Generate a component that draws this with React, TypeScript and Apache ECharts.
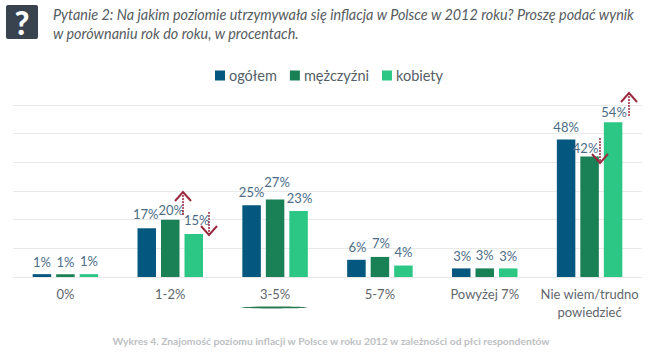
import React, { useEffect, useRef } from "react";
import * as echarts from "echarts";

const categories = ["0%", "1-2%", "3-5%", "5-7%", "Powyżej 7%", "Nie wiem/trudno\npowiedzieć"];
const seriesNames = ["ogółem", "mężczyźni", "kobiety"];
const ogolem = [1, 17, 25, 6, 3, 48];
const mezczyzni = [1, 20, 27, 7, 3, 42];
const kobiety = [1, 15, 23, 4, 3, 54];
const colors = ["#04587f", "#1a8055", "#2cc784"];
const title1 = "Pytanie 2: Na jakim poziomie utrzymywała się inflacja w Polsce w 2012 roku? Proszę podać wynik";
const title2 = "w porównaniu rok do roku, w procentach.";
const footer = "Wykres 4. Znajomość poziomu inflacji w Polsce w roku 2012 w zależności od płci respondentów";

const FONT = "Lato, 'Open Sans', sans-serif";
const nudges: number[][][] = [
  [[0, -1], [-1, -3], [0, -2], [1, -1], [1, -1], [0, -1]],
  [[0, -1], [1, 2], [2, -6], [1, -2], [0, -2], [-4, 3]],
  [[0, -2], [3, -3], [1, -2], [0, -2], [0, -1], [1, 1]],
];

function arrow(x: number, top: number, bottom: number, up: boolean) {
  const stroke = "#9c2a3f";
  const tip = up ? top : bottom;
  const dir = up ? 1 : -1;
  return [
    { type: "line", silent: true, z: 20, shape: { x1: x, y1: top, x2: x, y2: bottom }, style: { stroke, lineWidth: 1.5, lineDash: [2, 1] } },
    { type: "polyline", silent: true, z: 20, shape: { points: [[x - 8, tip + dir * 9], [x, tip], [x + 8, tip + dir * 9]] }, style: { stroke, lineWidth: 2, fill: "none" } },
  ];
}

export default function App() {
  const ref = useRef<HTMLDivElement>(null);
  useEffect(() => {
    const chart = echarts.init(ref.current!, null, { renderer: "svg" });
    const values = [ogolem, mezczyzni, kobiety];
    chart.setOption({
      animation: false,
      backgroundColor: "#ffffff",
      textStyle: { fontFamily: FONT },
      legend: {
        data: seriesNames,
        left: 210,
        top: 63,
        icon: "rect",
        itemWidth: 10,
        itemHeight: 10,
        itemGap: 13,
        selectedMode: false,
        textStyle: { fontFamily: FONT, fontSize: 14.5, color: "#555f68", padding: [0, 0, 0, -1] },
      },
      grid: { left: 13, right: 13, top: 105, bottom: 77 },
      xAxis: {
        type: "category",
        data: categories,
        axisLine: { lineStyle: { color: "#e6e8e8" } },
        axisTick: { show: false },
        axisLabel: { fontFamily: FONT, fontSize: 13, color: "#5f666c", margin: 8, lineHeight: 18, interval: 0 },
      },
      yAxis: {
        type: "value",
        min: 0,
        max: 60,
        interval: 10,
        axisLabel: { show: false },
        axisLine: { show: false },
        axisTick: { show: false },
        splitLine: { lineStyle: { color: "#e8eaea" } },
      },
      series: values.map((vals, s) => ({
        name: seriesNames[s],
        type: "bar",
        barWidth: 18.5,
        barGap: "27%",
        itemStyle: { color: colors[s] },
        data: vals.map((v, c) => ({
          value: v,
          label: {
            show: true,
            position: "top",
            distance: 5,
            formatter: "{c}%",
            offset: nudges[s][c],
            fontFamily: FONT,
            fontSize: 13,
            color: "#4b6c88",
          },
        })),
      })),
      graphic: [
        { type: "rect", silent: true, shape: { x: 6, y: 5, width: 32, height: 34, r: 2 }, style: { fill: "#38434f" } },
        { type: "text", silent: true, x: 22, y: 22, style: { text: "?", fill: "#ffffff", font: "900 32px Lato, sans-serif", align: "center", verticalAlign: "middle" } },
        { type: "text", silent: true, x: 53, y: 14, style: { text: title1, fill: "#555b60", font: "italic 14.4px Lato, sans-serif", verticalAlign: "middle" } },
        { type: "text", silent: true, x: 53, y: 33, style: { text: title2, fill: "#555b60", font: "italic 14.4px Lato, sans-serif", verticalAlign: "middle" } },
        { type: "text", silent: true, x: 331, y: 341, style: { text: footer, fill: "#bdc0c3", font: "bold 10.3px Lato, sans-serif", align: "center", verticalAlign: "middle" } },
        { type: "ellipse", silent: true, shape: { cx: 274, cy: 307.5, rx: 33, ry: 0.9 }, style: { fill: "#2b7a4f" } },
        ...arrow(183, 192, 216, true),
        ...arrow(209, 212, 235, false),
        ...arrow(600, 138, 163, false),
        ...arrow(629, 93, 117, true),
      ],
    });
    return () => chart.dispose();
  }, []);
  return <div ref={ref} style={{ position: "absolute", left: 0, top: 0, width: 655, height: 354 }} />;
}
